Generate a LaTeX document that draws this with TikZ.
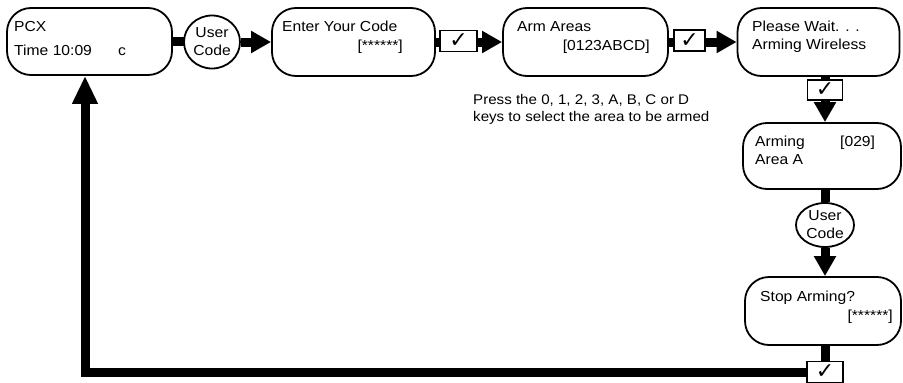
\documentclass[tikz,border=0pt]{standalone}
\usepackage{fontspec}
\setmainfont{Liberation Sans}[FakeStretch=1.08]
\newfontfamily\symfont{DejaVu Sans}
\usetikzlibrary{arrows.meta,shapes.geometric,backgrounds}
\begin{document}
\begin{tikzpicture}[x=1pt,y=-1pt,
 font=\fontsize{14.5}{18}\selectfont,
 box/.style={draw,line width=1.8pt,rounded corners=24pt,inner sep=0pt,fill=white},
 ell/.style={draw,ellipse,line width=1.8pt,inner sep=0pt,align=center,fill=white},
 ck/.style={draw,line width=1.4pt,fill=white,inner sep=0pt,font=\symfont\fontsize{22}{22}\selectfont},
 txt/.style={inner sep=0pt,anchor=base west},
 txte/.style={inner sep=0pt,anchor=base east},
 note/.style={inner sep=0pt,anchor=base west,font=\fontsize{14}{17}\selectfont},
 bar/.style={line width=9pt},
 arr/.style={line width=9pt,-{Triangle[length=20pt,width=21pt]}},
]
\useasboundingbox (0,0) rectangle (903,383);

% boxes
\node[box,minimum width=165pt,minimum height=67pt] (pcx) at (89.5,41.5) {};
\node[box,minimum width=163pt,minimum height=68pt] (enter) at (353.5,42) {};
\node[box,minimum width=165pt,minimum height=68pt] (arm) at (585.5,42) {};
\node[box,minimum width=162pt,minimum height=68pt] (wait) at (818.5,42) {};
\node[box,minimum width=158pt,minimum height=66pt] (arming) at (822,156) {};
\node[box,minimum width=156pt,minimum height=68pt] (stop) at (823,311) {};

% ellipses
\node[ell,minimum width=56pt,minimum height=53pt] (uc1) at (212,42) {User\\Code};
\node[ell,minimum width=58pt,minimum height=44pt] (uc2) at (825,225) {User\\Code};

% check boxes
\node[ck,minimum width=37pt,minimum height=21pt] (ck1) at (458.5,41) {✓};
\node[ck,minimum width=31pt,minimum height=21pt] (ck2) at (689.5,40.5) {✓};
\node[ck,minimum width=35pt,minimum height=20pt] (ck3) at (825,90) {✓};
\node[ck,minimum width=36pt,minimum height=21pt] (ck4) at (825,372) {✓};

% texts
\node[txt] (t1) at (14,31) {PCX};
\node[txt] (t2) at (14,55) {Time 10:09};
\node[txt] (t3) at (118,55) {c};
\node[txt] (t4) at (282,31) {Enter Your Code};
\node[txte] (t5) at (403,50) {[******]};
\node[txt] (t6) at (517,31) {Arm Areas};
\node[txte] (t7) at (650,50) {[0123ABCD]};
\node[txt] (t8) at (752,31) {Please Wait. . .};
\node[txt] (t9) at (752,49) {Arming Wireless};
\node[txt] (t10) at (755,146) {Arming};
\node[txt] (t11) at (840,146) {[029]};
\node[txt] (t12) at (755,164) {Area A};
\node[txt] (t13) at (760,301) {Stop Arming?};
\node[txte] (t14) at (893,320) {[******]};
\node[note] (t15) at (473,104) {Press the 0, 1, 2, 3, A, B, C or D};
\node[note] (t16) at (473,121) {keys to select the area to be armed};

% bars behind nodes
\begin{scope}[on background layer]
\draw[bar] (pcx) -- (pcx -| uc1);
\draw[bar] (enter) -- (enter -| ck1);
\draw[bar] (arm) -- (arm -| ck2);
\draw[bar] (ck3) -- (ck3 |- wait);
\draw[bar] (uc2) -- (uc2 |- arming);
\draw[bar] (ck4) -- (ck4 |- stop);
\end{scope}

% arrows
\draw[arr] (uc1.east) -- (enter.west);
\draw[arr] (ck1.east |- arm.west) -- (arm.west);
\draw[arr] (ck2.east |- wait.west) -- (wait.west);
\draw[arr] (ck3.south) -- (ck3.south |- arming.north);
\draw[arr] (uc2.south) -- (uc2.south |- stop.north);

\coordinate (ret) at (85,372);
\draw[line width=9pt,line join=miter,-{Triangle[length=28pt,width=24pt]}] (ck4.west) -- (ret) -- (ret |- pcx.south);
\end{tikzpicture}
\end{document}
